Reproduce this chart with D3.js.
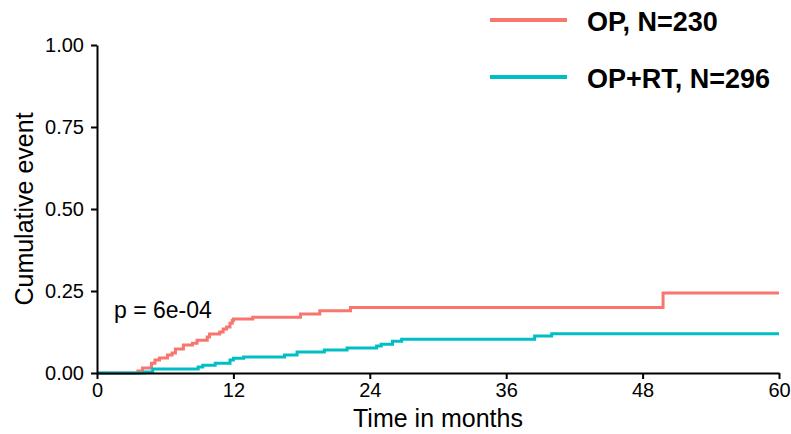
<!DOCTYPE html>
<html>
<head>
<meta charset="utf-8">
<script src="https://cdn.jsdelivr.net/npm/d3@7"></script>
<style>
  body { margin: 0; background: #fff; }
  text { font-family: "Liberation Sans", Arial, sans-serif; }
</style>
</head>
<body>
<div id="chart"></div>
<script>
// cumulative event curves
var opTime  = [0, 3.6, 4.0, 4.8, 5.1, 5.5, 6.2, 6.6, 6.9, 7.6, 8.4, 8.8, 9.7, 9.9, 10.8, 11.1, 11.4, 11.7, 11.9, 12.0, 13.7, 17.9, 19.6, 22.3, 49.8, 60];
var opValue = [0, 0.006, 0.015, 0.03, 0.04, 0.046, 0.055, 0.061, 0.073, 0.085, 0.091, 0.10, 0.11, 0.119, 0.125, 0.134, 0.14, 0.152, 0.16, 0.165, 0.17, 0.18, 0.19, 0.20, 0.244, 0.244];

var rtTime  = [0, 4.2, 4.9, 8.9, 9.3, 10.4, 11.7, 12.0, 12.9, 16.5, 17.6, 20.0, 22.0, 24.6, 25.0, 26.0, 26.8, 38.5, 40.0, 60];
var rtValue = [0, 0.003, 0.012, 0.018, 0.024, 0.03, 0.04, 0.045, 0.049, 0.055, 0.064, 0.07, 0.076, 0.082, 0.088, 0.097, 0.103, 0.113, 0.12, 0.12];

var groups = ["OP, N=230", "OP+RT, N=296"];
var colors = ["#F8766D", "#00BFC4"];
var xTicks = [0, 12, 24, 36, 48, 60];
var yTicks = [0, 0.25, 0.5, 0.75, 1];
var pLabel = "p = 6e-04";

var width = 791,
    height = 434,
    margin = { top: 45, right: 12, bottom: 61, left: 97 };

var svg = d3.select("#chart")
    .append("svg")
    .attr("width", width)
    .attr("height", height);

var x = d3.scaleLinear().domain([0, 60]).range([margin.left, width - margin.right]);
var y = d3.scaleLinear().domain([0, 1]).range([height - margin.bottom, margin.top]);

var line = d3.line()
    .curve(d3.curveStepAfter)
    .x(function(d) { return x(d[0]); })
    .y(function(d) { return y(d[1]); });

var series = [d3.zip(opTime, opValue), d3.zip(rtTime, rtValue)];

svg.selectAll("path.curve")
    .data(series)
    .enter().append("path")
    .attr("class", "curve")
    .attr("d", line)
    .attr("fill", "none")
    .attr("stroke", function(d, i) { return colors[i]; })
    .attr("stroke-width", 3);

// axes
var xAxis = svg.append("g")
    .attr("transform", "translate(0," + y(0) + ")")
    .call(d3.axisBottom(x).tickValues(xTicks).tickSize(6).tickSizeOuter(0).tickPadding(4));

var yAxis = svg.append("g")
    .attr("transform", "translate(" + x(0) + ",0)")
    .call(d3.axisLeft(y).tickValues(yTicks).tickFormat(d3.format(".2f")).tickSize(6).tickSizeOuter(0).tickPadding(7));

[xAxis, yAxis].forEach(function(a) {
    a.select(".domain").attr("stroke", "#000").attr("stroke-width", 2);
    a.selectAll(".tick line").attr("stroke", "#000").attr("stroke-width", 2);
    a.selectAll(".tick text")
        .attr("fill", "#000")
        .style("font-size", "20px")
        .style("font-family", "'Liberation Sans', Arial, sans-serif");
});

svg.append("text")
    .attr("x", (x(0) + x(60)) / 2)
    .attr("y", 427)
    .attr("text-anchor", "middle")
    .style("font-size", "25px")
    .text("Time in months");

svg.append("text")
    .attr("transform", "translate(33," + (y(0) + y(1)) / 2 + ") rotate(-90)")
    .attr("text-anchor", "middle")
    .style("font-size", "25px")
    .text("Cumulative event");

svg.append("text")
    .attr("x", 114)
    .attr("y", 318)
    .style("font-size", "23px")
    .text(pLabel);

// legend
var legend = svg.selectAll("g.legend")
    .data(groups)
    .enter().append("g")
    .attr("class", "legend")
    .attr("transform", function(d, i) { return "translate(490," + (20 + i * 57) + ")"; });

legend.append("line")
    .attr("x1", 0).attr("x2", 77)
    .attr("stroke", function(d, i) { return colors[i]; })
    .attr("stroke-width", 4);

legend.append("text")
    .attr("x", 97)
    .attr("y", 11)
    .style("font-size", "27px")
    .style("font-weight", "bold")
    .text(function(d) { return d; });
</script>
</body>
</html>
